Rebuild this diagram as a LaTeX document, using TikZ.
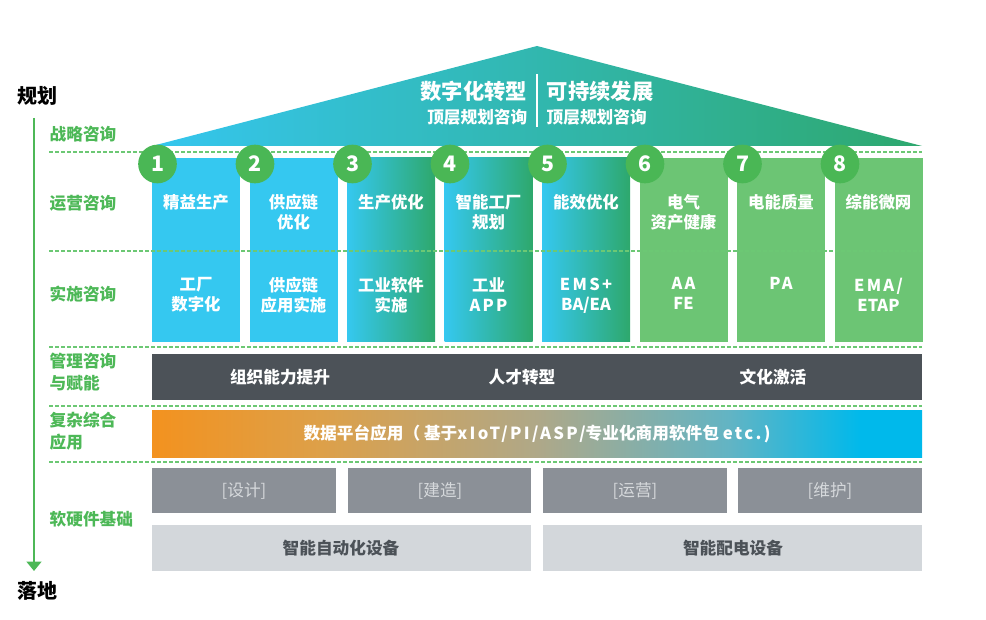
\documentclass[tikz,border=0pt]{standalone}
\usepackage{fontspec}
\setmainfont{Noto Sans CJK SC}
\newfontfamily\widefont{Noto Sans CJK SC}[LetterSpace=14]
\usetikzlibrary{arrows.meta}

\definecolor{labelgreen}{HTML}{4DB857}
\definecolor{dashgreen}{HTML}{6CC874}
\definecolor{numgreen}{HTML}{4AB755}
\definecolor{colcyan}{HTML}{35C8F0}
\definecolor{colgreen}{HTML}{2EA86C}
\definecolor{lightgreen}{HTML}{6CC574}
\definecolor{roofcyan}{HTML}{35C6EF}
\definecolor{roofgreen}{HTML}{2EA86E}
\definecolor{darkbar}{HTML}{4C5258}
\definecolor{graybox}{HTML}{8B9097}
\definecolor{graytext}{HTML}{D6D9DC}
\definecolor{lightbox}{HTML}{D3D7DB}
\definecolor{barorange}{HTML}{F3921F}
\definecolor{barochre}{HTML}{DDA049}
\definecolor{bartan}{HTML}{AFA888}
\definecolor{barteal}{HTML}{62B4C4}
\definecolor{barcyan}{HTML}{00B9EB}

% visible part of an axis shading runs from 25bp to 75bp
\pgfdeclarehorizontalshading{databar}{100bp}{color(0bp)=(barorange); color(25bp)=(barorange); color(36bp)=(barochre); color(50bp)=(bartan); color(62.5bp)=(barteal); color(71bp)=(barcyan); color(100bp)=(barcyan)}

\tikzset{
  layer/.style={text=labelgreen, anchor=west, align=left, font=\bfseries\fontsize{12.5}{16}\selectfont},
  sepline/.style={dashgreen, line width=0.8pt, dash pattern=on 3pt off 1.5pt},
  solidcyan/.style={fill=colcyan},
  gradcol/.style={left color=colcyan, right color=colgreen},
  solidgreen/.style={fill=lightgreen},
  colhead/.style={text=white, anchor=north, align=center, font=\bfseries\fontsize{12.3}{15}\selectfont},
  numdisc/.style={circle, fill=numgreen, text=white, minimum size=29pt, inner sep=0pt, font=\bfseries\fontsize{16}{16}\selectfont},
  bartext/.style={text=white, font=\bfseries\fontsize{12.5}{15}\selectfont},
  basetext/.style={text=graytext, font=\fontsize{12.5}{15}\selectfont},
  devtext/.style={text=darkbar, font=\bfseries\fontsize{12.5}{15}\selectfont}
}

\begin{document}
\begin{tikzpicture}[x=0.75pt,y=-0.75pt]
\useasboundingbox (0,0) rectangle (986,620);

% planning to landing axis
\node[font=\bfseries\fontsize{15}{15}\selectfont] (plan) at (37,96) {规划};
\node[font=\bfseries\fontsize{15}{15}\selectfont] (land) at (37,591) {落地};
\coordinate (axistop) at (34,118);
\coordinate (axisend) at (34,571);
\draw[labelgreen, line width=1.5pt, -{Triangle[width=11pt,length=7pt]}] (axistop) -- (axisend);

% layer names
\node[layer] (strategy) at (45,134) {战略咨询};
\node[layer] (operate) at (45,203) {运营咨询};
\node[layer] (implement) at (45,294) {实施咨询};
\node[layer] (manage) at (45,372) {管理咨询\\与赋能};
\node[layer] (platform) at (45,431) {复杂综合\\应用};
\node[layer] (base) at (45,519) {软硬件基础};

% roof
\shade[left color=roofcyan, right color=roofgreen] (152,146) -- (537,46) -- (922,146) -- cycle;
\draw[white, line width=0.8pt] (537,74) -- (537,127);
\node[anchor=east, text=white, font=\bfseries\fontsize{16}{16}\selectfont] (digital) at (532,91) {数字化转型};
\node[anchor=west, text=white, font=\bfseries\fontsize{16}{16}\selectfont] (sustain) at (542,91) {可持续发展};
\node[anchor=east, text=white, font=\bfseries\fontsize{12.5}{13}\selectfont] (digitalsub) at (532,117) {顶层规划咨询};
\node[anchor=west, text=white, font=\bfseries\fontsize{12.5}{13}\selectfont] (sustainsub) at (542,117) {顶层规划咨询};

\draw[sepline] (49,152) -- (922,152);

% pillars
\foreach \i/\colstyle/\head/\body in {
  1/solidcyan/{精益生产}/{工厂\\数字化},
  2/solidcyan/{供应链\\优化}/{供应链\\应用实施},
  3/gradcol/{生产优化}/{工业软件\\实施},
  4/gradcol/{智能工厂\\规划}/{工业\\\widefont APP},
  5/gradcol/{能效优化}/{\widefont EMS+\\BA/EA},
  6/solidgreen/{电气\\资产健康}/{\widefont AA\\FE},
  7/solidgreen/{电能质量}/{\widefont PA},
  8/solidgreen/{综能微网}/{\widefont EMA/\\ETAP}}
{
  \pgfmathsetmacro\xl{152+(\i-1)*97.5}
  \path[\colstyle] (\xl,158) rectangle ++(88,184);
  \node[colhead] (head\i) at (\xl+44,190) {\head};
  \node[colhead] (body\i) at (\xl+44,273) {\body};
}
\draw[sepline] (49,251) -- (922,251);
\foreach \i in {1,...,8}
  \node[numdisc] (num\i) at (157.5+\i*97.5-97.5,164) {\i};

\draw[sepline] (49,347) -- (922,347);

% management bar
\fill[darkbar] (152,354) rectangle (922,400);
\node[bartext] (org) at (280,377) {组织能力提升};
\node[bartext] (talent) at (522,377) {人才转型};
\node[bartext] (culture) at (773,377) {文化激活};

\draw[sepline] (49,406) -- (922,406);

% data platform bar
\shade[shading=databar] (152,411) rectangle (922,457);
\node[bartext] (data) at (537,434) {数据平台应用（ 基于{\widefont xIoT/PI/ASP/}专业化商用软件包 {\widefont etc.)}};

\draw[sepline] (49,462) -- (922,462);

% software and hardware base
\fill[graybox] (152,468) rectangle (336,513);
\fill[graybox] (348,468) rectangle (531,513);
\fill[graybox] (543,468) rectangle (727,513);
\fill[graybox] (738,468) rectangle (922,513);
\node[basetext] (design) at (244,491) {[设计]};
\node[basetext] (build) at (440,491) {[建造]};
\node[basetext] (run) at (635,491) {[运营]};
\node[basetext] (maintain) at (830,491) {[维护]};

\fill[lightbox] (152,525) rectangle (531,571);
\fill[lightbox] (543,525) rectangle (922,571);
\node[devtext] (automation) at (341,548) {智能自动化设备};
\node[devtext] (distribution) at (733,548) {智能配电设备};
\end{tikzpicture}
\end{document}
